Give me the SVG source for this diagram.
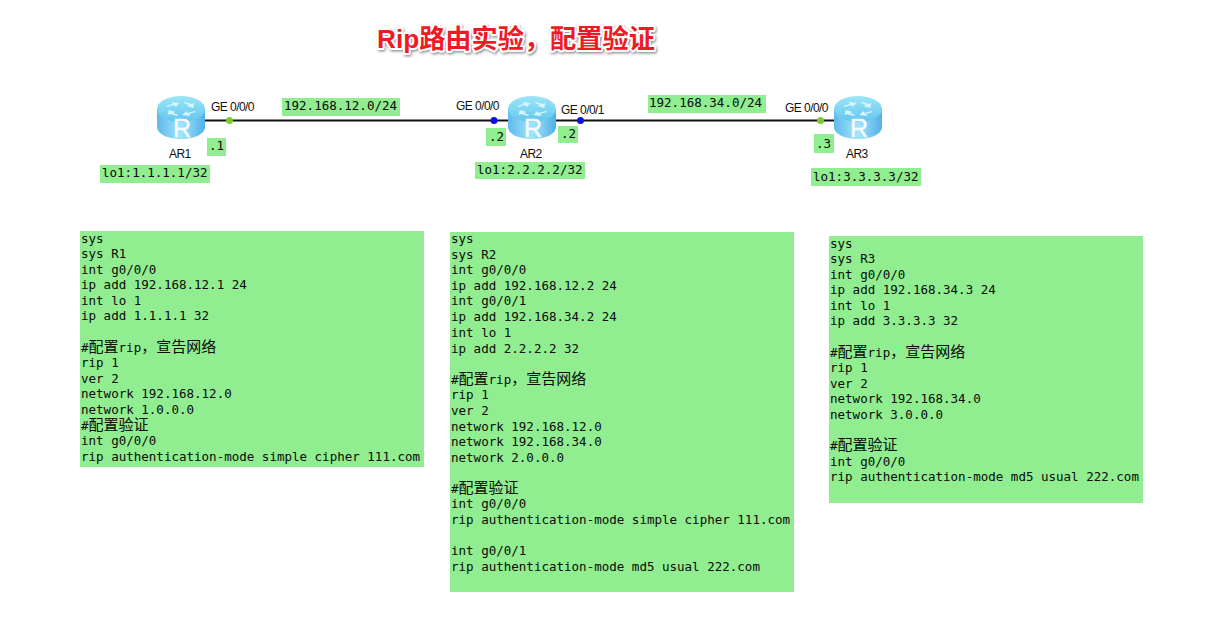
<svg xmlns="http://www.w3.org/2000/svg" xmlns:xlink="http://www.w3.org/1999/xlink" width="1207" height="626" viewBox="0 0 1207 626">
<style>
.bg{fill:#90ee90}
.m{font-family:"DejaVu Sans Mono","Liberation Mono",monospace;font-size:12.53px;fill:#0a0a0a}
.c{font-family:"DejaVu Sans Mono","Noto Sans CJK SC",monospace;font-size:12.53px;fill:#0a0a0a}
.z{font-family:"Noto Sans CJK SC",sans-serif;font-size:15px}
.l{font-family:"Liberation Sans",Arial,sans-serif;font-size:12px;fill:#111;letter-spacing:-.55px}
.t{font-family:"Liberation Sans","Noto Sans CJK SC",sans-serif;font-size:26.2px;font-weight:700;fill:#f01a24}
.ts{fill:#fff;stroke:#fff;stroke-width:4px;stroke-linejoin:round;filter:url(#sh)}
.w{stroke:#111;stroke-width:2;fill:none}
</style>
<defs>
<linearGradient id="body" x1="0" x2="1" y1="0" y2="0">
<stop offset="0" stop-color="#5fb9ea"/><stop offset=".5" stop-color="#a4e4fb"/><stop offset="1" stop-color="#4fb0e6"/>
</linearGradient>
<linearGradient id="top" x1="0" x2="0" y1="0" y2="1">
<stop offset="0" stop-color="#9ce6f8"/><stop offset="1" stop-color="#62c6ee"/>
</linearGradient>
<filter id="sh" x="-5%" y="-20%" width="110%" height="150%"><feDropShadow dx="1" dy="1.5" stdDeviation="1" flood-color="#777" flood-opacity=".8"/></filter>
<g id="router">
<path d="M-24-11V7C-24 14-13 19 0 19S24 14 24 7V-11Z" fill="url(#body)"/>
<ellipse cx="0" cy="-11" rx="24" ry="13" fill="url(#top)"/>
<path transform="translate(0 1) scale(1.35 1)" d="M-11-15l5-2-1-2 6 1-3 4-1-2-5 2zM11-9l-5 2 1 2-6-1 3-4 1 2 5-2zM3-19l5 2 2-1-1 5-5-2 2-1-4-2zM-3-5l-5-2-2 1 1-5 5 2-2 1 4 2z" fill="#d8f6fd"/>
<text x="1" y="17" text-anchor="middle" font-family="Liberation Sans,sans-serif" font-size="25" fill="#f2fbff" stroke="#f2fbff" stroke-width=".5">R</text>
</g>
</defs>
<rect width="1207" height="626" fill="#fff"/>
<g id="title">
<text class="t ts" x="377" y="48">Rip路由实验，配置验证</text>
<text class="t" x="377" y="48">Rip路由实验，配置验证</text>
</g>
<g id="connectors">
<path class="w" d="M204 120.500H508M556 120.500H834"/>
<circle cx="229.500" cy="120.500" r="3.500" fill="#7ecb2c"/>
<circle cx="494" cy="120.500" r="3.500" fill="#0a10e6"/>
<circle cx="580.500" cy="120.500" r="3.500" fill="#0a10e6"/>
<circle cx="820.500" cy="120.500" r="3.500" fill="#7ecb2c"/>
</g>
<g id="AR1"><use xlink:href="#router" href="#router" x="181" y="120"/><text class="l" x="169" y="158">AR1</text></g>
<g id="AR2"><use xlink:href="#router" href="#router" x="532" y="120"/><text class="l" x="520" y="158">AR2</text></g>
<g id="AR3"><use xlink:href="#router" href="#router" x="858" y="120"/><text class="l" x="846" y="158">AR3</text></g>
<g id="interface-labels">
<text class="l" x="211" y="111">GE 0/0/0</text>
<text class="l" x="456" y="110">GE 0/0/0</text>
<text class="l" x="561" y="114">GE 0/0/1</text>
<text class="l" x="785" y="112">GE 0/0/0</text>
</g>
<g id="net12"><rect class="bg" x="282" y="98" width="118" height="18"/><text class="m" x="284" y="110">192.168.12.0/24</text></g>
<g id="net34"><rect class="bg" x="648" y="95" width="118" height="18"/><text class="m" x="649" y="107">192.168.34.0/24</text></g>
<g id="ip1"><rect class="bg" x="207" y="138" width="19" height="18"/><text class="m" x="209" y="150">.1</text></g>
<g id="ip2a"><rect class="bg" x="486" y="128" width="20" height="18"/><text class="m" x="489" y="141">.2</text></g>
<g id="ip2b"><rect class="bg" x="558" y="126" width="20" height="17"/><text class="m" x="561" y="138">.2</text></g>
<g id="ip3"><rect class="bg" x="814" y="134" width="20" height="19"/><text class="m" x="816" y="148">.3</text></g>
<g id="lo1"><rect class="bg" x="100" y="165" width="110" height="18"/><text class="m" x="102" y="177">lo1:1.1.1.1/32</text></g>
<g id="lo2"><rect class="bg" x="475" y="162" width="110" height="17"/><text class="m" x="477" y="174">lo1:2.2.2.2/32</text></g>
<g id="lo3"><rect class="bg" x="811" y="168" width="110" height="18"/><text class="m" x="813" y="181">lo1:3.3.3.3/32</text></g>
<g id="config-R1">
<rect class="bg" x="80" y="231" width="344" height="236"/>
<text class="m" x="81" y="243">sys</text>
<text class="m" x="81" y="258">sys R1</text>
<text class="m" x="81" y="274">int g0/0/0</text>
<text class="m" x="81" y="289">ip add 192.168.12.1 24</text>
<text class="m" x="81" y="305">int lo 1</text>
<text class="m" x="81" y="320">ip add 1.1.1.1 32</text>
<text class="c" x="81" y="352">#<tspan class="z">配置</tspan>rip<tspan class="z">，宣告网络</tspan></text>
<text class="m" x="81" y="367">rip 1</text>
<text class="m" x="81" y="383">ver 2</text>
<text class="m" x="81" y="398">network 192.168.12.0</text>
<text class="m" x="81" y="414">network 1.0.0.0</text>
<text class="c" x="81" y="430">#<tspan class="z">配置验证</tspan></text>
<text class="m" x="81" y="445">int g0/0/0</text>
<text class="m" x="81" y="461">rip authentication-mode simple cipher 111.com</text>
</g>
<g id="config-R2">
<rect class="bg" x="450" y="232" width="344" height="360"/>
<text class="m" x="451" y="243">sys</text>
<text class="m" x="451" y="259">sys R2</text>
<text class="m" x="451" y="274">int g0/0/0</text>
<text class="m" x="451" y="290">ip add 192.168.12.2 24</text>
<text class="m" x="451" y="305">int g0/0/1</text>
<text class="m" x="451" y="321">ip add 192.168.34.2 24</text>
<text class="m" x="451" y="337">int lo 1</text>
<text class="m" x="451" y="353">ip add 2.2.2.2 32</text>
<text class="c" x="451" y="384">#<tspan class="z">配置</tspan>rip<tspan class="z">，宣告网络</tspan></text>
<text class="m" x="451" y="399">rip 1</text>
<text class="m" x="451" y="415">ver 2</text>
<text class="m" x="451" y="431">network 192.168.12.0</text>
<text class="m" x="451" y="446">network 192.168.34.0</text>
<text class="m" x="451" y="462">network 2.0.0.0</text>
<text class="c" x="451" y="493">#<tspan class="z">配置验证</tspan></text>
<text class="m" x="451" y="508">int g0/0/0</text>
<text class="m" x="451" y="524">rip authentication-mode simple cipher 111.com</text>
<text class="m" x="451" y="555">int g0/0/1</text>
<text class="m" x="451" y="571">rip authentication-mode md5 usual 222.com</text>
</g>
<g id="config-R3">
<rect class="bg" x="829" y="236" width="314" height="267"/>
<text class="m" x="830" y="248">sys</text>
<text class="m" x="830" y="263">sys R3</text>
<text class="m" x="830" y="279">int g0/0/0</text>
<text class="m" x="830" y="294">ip add 192.168.34.3 24</text>
<text class="m" x="830" y="310">int lo 1</text>
<text class="m" x="830" y="325">ip add 3.3.3.3 32</text>
<text class="c" x="830" y="357">#<tspan class="z">配置</tspan>rip<tspan class="z">，宣告网络</tspan></text>
<text class="m" x="830" y="372">rip 1</text>
<text class="m" x="830" y="388">ver 2</text>
<text class="m" x="830" y="403">network 192.168.34.0</text>
<text class="m" x="830" y="419">network 3.0.0.0</text>
<text class="c" x="830" y="450">#<tspan class="z">配置验证</tspan></text>
<text class="m" x="830" y="466">int g0/0/0</text>
<text class="m" x="830" y="481">rip authentication-mode md5 usual 222.com</text>
</g>
</svg>
